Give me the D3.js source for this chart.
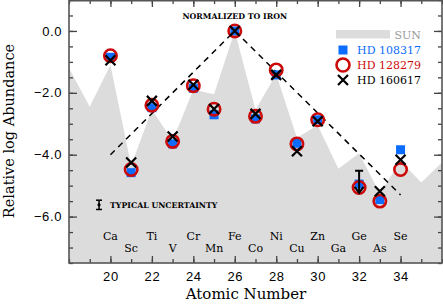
<!DOCTYPE html>
<meta charset="utf-8">
<style>
body { margin: 0; background: #fff; }
.axis path { display: none; }
.axis line { stroke: #444; stroke-width: 1.3px; }
.axis text { font: 13px "Liberation Sans", sans-serif; fill: #000; letter-spacing: 0.6px; }
.serif { font-family: "DejaVu Serif", serif; }
</style>
<svg width="443" height="304"></svg>
<script src="https://cdn.jsdelivr.net/npm/d3@7"></script>
<script>

// atomic numbers and element names of the measured species
var atomicNumber = [20, 21, 22, 23, 24, 25, 26, 27, 28, 29, 30, 31, 32, 33, 34];
var elements = ["Ca", "Sc", "Ti", "V", "Cr", "Mn", "Fe", "Co", "Ni", "Cu", "Zn", "Ga", "Ge", "As", "Se"];

// relative log abundances (normalized to Fe), null = not measured
var hd108317 = [-0.85, -4.58, -2.48, -3.65, -1.85, -2.71, 0.0, -2.84, -1.42, -3.63, -2.87, null, -4.95, -5.45, -3.84];
var hd128279 = [-0.80, -4.48, -2.40, -3.57, -1.77, -2.53, 0.0, -2.76, -1.26, -3.65, -2.87, null, -5.06, -5.50, -4.48];
var hd160617 = [-0.95, -4.25, -2.26, -3.41, -1.74, -2.52, 0.0, -2.68, -1.42, -3.89, -2.92, null, null, -5.18, -4.16];

// HD 160617 upper limit
var limitZ = [32];
var limitVal = [-4.52];

// solar pattern, Z = 18..36
var sunZ = [18, 19, 20, 21, 22, 23, 24, 25, 26, 27, 28, 29, 30, 31, 32, 33, 34, 35, 36];
var sunVal = [-1.2, -2.45, -1.1, -4.35, -2.55, -3.55, -1.9, -2.05, 0.0, -2.55, -1.4, -3.45, -3.05, -4.45, -3.95, -5.25, -4.2, -4.9, -4.25];

// dashed guide lines
var guideZ = [20, 26, 34];
var guideVal = [-4.0, 0.0, -5.3];

// typical uncertainty bar
var errZ = [19.45];
var errVal = [-5.62];
var errSize = [0.15];

var xMajor = [20, 22, 24, 26, 28, 30, 32, 34];
var xMinor = d3.range(18, 36.01, 1);
var yMajor = [0, -2, -4, -6];
var yMinor = d3.range(-7.5, 1.01, 0.5);

var legendNames = ["HD 108317", "HD 128279", "HD 160617"];
var blue = "#0b6cff", red = "#cc0a0a", grey = "#dcdcdc";

var svg = d3.select("svg"),
    margin = {top: 0, right: 1, bottom: 41, left: 69},
    width = svg.attr("width") - margin.left - margin.right,
    height = svg.attr("height") - margin.top - margin.bottom,
    g = svg.append("g").attr("transform", "translate(" + margin.left + "," + margin.top + ")");

var x = d3.scaleLinear().domain([18, 36]).range([0, width]),
    y = d3.scaleLinear().domain([-7.5, 1.0]).range([height, 0]);

g.append("clipPath").attr("id", "clip")
  .append("rect").attr("width", width).attr("height", height);

var plot = g.append("g").attr("clip-path", "url(#clip)");

// sun area
var area = d3.area()
    .x(function(d) { return x(d[0]); })
    .y0(height)
    .y1(function(d) { return y(d[1]); });

plot.append("path")
  .datum(d3.zip(sunZ, sunVal))
  .attr("d", area)
  .attr("fill", grey);

// guide lines
plot.append("path")
  .datum(d3.zip(guideZ, guideVal))
  .attr("d", d3.line().x(function(d) { return x(d[0]); }).y(function(d) { return y(d[1]); }))
  .attr("fill", "none")
  .attr("stroke", "#000")
  .attr("stroke-width", 1.5)
  .attr("stroke-dasharray", "6,5");

// element labels
g.selectAll(".elem")
  .data(d3.zip(atomicNumber, elements))
  .enter().append("text")
  .attr("class", "serif")
  .attr("x", function(d) { return x(d[0]); })
  .attr("y", function(d) { return d[0] % 2 === 0 ? height - 23 : height - 11; })
  .attr("text-anchor", "middle")
  .style("font-size", "11px")
  .text(function(d) { return d[1]; });

// typical uncertainty
var ex = x(errZ[0]), ey = y(errVal[0]);
var eb = g.append("g").attr("stroke", "#000").attr("stroke-width", 1.5);
eb.append("line").attr("x1", ex).attr("x2", ex).attr("y1", y(errVal[0] + errSize[0])).attr("y2", y(errVal[0] - errSize[0]));
eb.append("line").attr("x1", ex - 3).attr("x2", ex + 3).attr("y1", y(errVal[0] + errSize[0])).attr("y2", y(errVal[0] + errSize[0]));
eb.append("line").attr("x1", ex - 3).attr("x2", ex + 3).attr("y1", y(errVal[0] - errSize[0])).attr("y2", y(errVal[0] - errSize[0]));
g.append("circle").attr("cx", ex).attr("cy", ey).attr("r", 1.6).attr("fill", "#000");
g.append("text")
  .attr("class", "serif")
  .attr("x", ex + 11)
  .attr("y", ey + 3)
  .style("font-size", "7.8px")
  .style("font-weight", "bold")
  .text("TYPICAL UNCERTAINTY");

g.append("text")
  .attr("class", "serif")
  .attr("x", x(26))
  .attr("y", 18.5)
  .attr("text-anchor", "middle")
  .style("font-size", "7.8px")
  .style("font-weight", "bold")
  .text("NORMALIZED TO IRON");

function pts(vals) {
  return d3.zip(atomicNumber, vals).filter(function(d) { return d[1] !== null; });
}

// markers
g.selectAll(".sq")
  .data(pts(hd108317))
  .enter().append("rect")
  .attr("x", function(d) { return x(d[0]) - 4.5; })
  .attr("y", function(d) { return y(d[1]) - 4.5; })
  .attr("width", 9).attr("height", 9)
  .attr("fill", blue);

g.selectAll(".ring")
  .data(pts(hd128279))
  .enter().append("circle")
  .attr("cx", function(d) { return x(d[0]); })
  .attr("cy", function(d) { return y(d[1]); })
  .attr("r", 6.2)
  .attr("fill", "none")
  .attr("stroke", red)
  .attr("stroke-width", 2.6);

var cross = "M-5,-5L5,5M-5,5L5,-5";
g.selectAll(".cross")
  .data(pts(hd160617))
  .enter().append("path")
  .attr("transform", function(d) { return "translate(" + x(d[0]) + "," + y(d[1]) + ")"; })
  .attr("d", cross)
  .attr("stroke", "#000")
  .attr("stroke-width", 2.2)
  .attr("fill", "none");

// upper limit: bar with down arrow
g.selectAll(".limit")
  .data(d3.zip(limitZ, limitVal))
  .enter().append("path")
  .attr("transform", function(d) { return "translate(" + x(d[0]) + "," + y(d[1]) + ")"; })
  .attr("d", "M-4,0L4,0M0,0L0,22M-4.5,16L0,22L4.5,16")
  .attr("stroke", "#000")
  .attr("stroke-width", 2)
  .attr("fill", "none");

// legend
var lg = g.append("g").attr("transform", "translate(" + (336 - margin.left) + ",0)");
lg.append("rect").attr("x", 0).attr("y", 30).attr("width", 54).attr("height", 8.5).attr("fill", grey);
lg.append("text").attr("class", "serif").attr("x", 85).attr("y", 38.5)
  .attr("text-anchor", "end").style("font-size", "11px").attr("fill", "#999").text("SUN");
lg.append("rect").attr("x", 2.5).attr("y", 45.5).attr("width", 9).attr("height", 9).attr("fill", blue);
lg.append("circle").attr("cx", 7).attr("cy", 65).attr("r", 6.5)
  .attr("fill", "none").attr("stroke", red).attr("stroke-width", 2.6);
lg.append("path").attr("transform", "translate(7,80)").attr("d", cross)
  .attr("stroke", "#000").attr("stroke-width", 2.2);
lg.selectAll(".lt")
  .data(legendNames)
  .enter().append("text")
  .attr("class", "serif")
  .attr("x", 85)
  .attr("y", function(d, i) { return 54 + i * 15; })
  .attr("text-anchor", "end")
  .style("font-size", "11px")
  .attr("fill", function(d, i) { return [blue, red, "#000"][i]; })
  .text(function(d) { return d; });

// axes, ticks inward on all sides
g.append("g").attr("class", "axis")
  .attr("transform", "translate(0," + height + ")")
  .call(d3.axisBottom(x).tickValues(xMajor).tickSize(-7).tickPadding(9).tickFormat(d3.format("d")));
g.append("g").attr("class", "axis")
  .attr("transform", "translate(0," + height + ")")
  .call(d3.axisBottom(x).tickValues(xMinor).tickSize(-4).tickFormat(""));
g.append("g").attr("class", "axis")
  .call(d3.axisTop(x).tickValues(xMajor).tickSize(-7).tickFormat(""));
g.append("g").attr("class", "axis")
  .call(d3.axisTop(x).tickValues(xMinor).tickSize(-4).tickFormat(""));

g.append("g").attr("class", "axis")
  .call(d3.axisLeft(y).tickValues(yMajor).tickSize(-8).tickPadding(7).tickFormat(d3.format(".1f")));
g.append("g").attr("class", "axis")
  .call(d3.axisLeft(y).tickValues(yMinor).tickSize(-4).tickFormat(""));
g.append("g").attr("class", "axis")
  .attr("transform", "translate(" + width + ",0)")
  .call(d3.axisRight(y).tickValues(yMajor).tickSize(-8).tickFormat(""));
g.append("g").attr("class", "axis")
  .attr("transform", "translate(" + width + ",0)")
  .call(d3.axisRight(y).tickValues(yMinor).tickSize(-4).tickFormat(""));

g.append("rect")
  .attr("x", 0).attr("y", 0.7)
  .attr("width", width).attr("height", height - 0.7)
  .attr("fill", "none")
  .attr("stroke", "#555")
  .attr("stroke-width", 1.6);

// axis titles
svg.append("text")
  .attr("class", "serif")
  .attr("x", 246)
  .attr("y", 299)
  .attr("text-anchor", "middle")
  .style("font-size", "15px")
  .text("Atomic Number");

svg.append("text")
  .attr("class", "serif")
  .attr("transform", "translate(13.5," + 131 + ") rotate(-90)")
  .attr("text-anchor", "middle")
  .style("font-size", "14.5px")
  .text("Relative log Abundance");

</script>
